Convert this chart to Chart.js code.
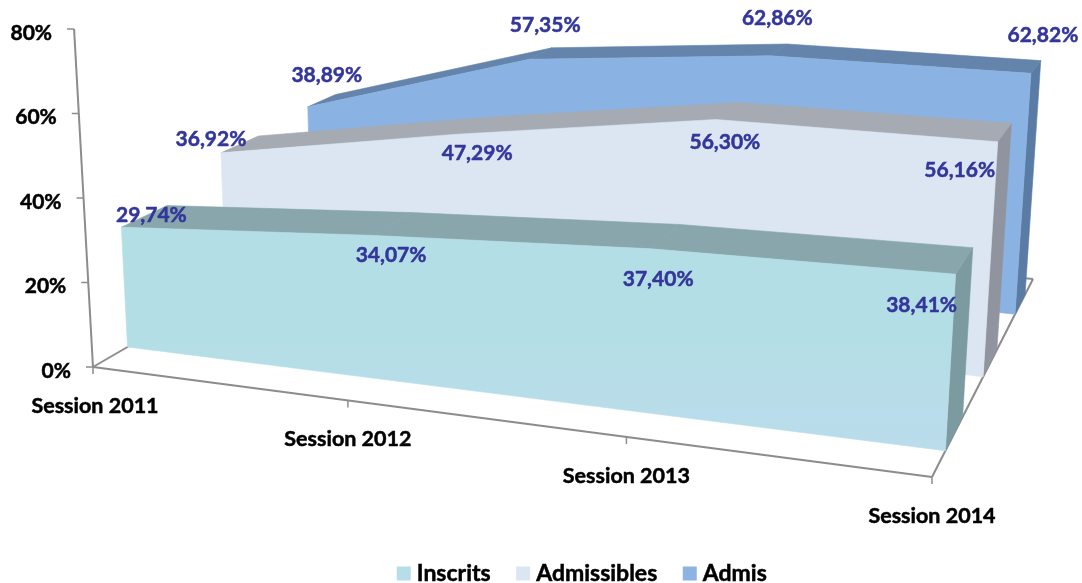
<!DOCTYPE html>
<html>
<head>
<meta charset="utf-8">
<style>
html,body{margin:0;padding:0;background:#fff}
#wrap{width:1082px;height:583px;position:relative}
canvas{display:block}
</style>
<script src="https://cdn.jsdelivr.net/npm/chart.js@4"></script>
</head>
<body>
<div id="wrap"><canvas id="c" width="1082" height="583"></canvas></div>
<script>
// --- data ---
const categories = ['Session 2011', 'Session 2012', 'Session 2013', 'Session 2014'];
const inscrits    = [29.74, 34.07, 37.40, 38.41];
const admissibles = [36.92, 47.29, 56.30, 56.16];
const admis       = [38.89, 57.35, 62.86, 62.82];

// --- styling of the three series ---
const seriesNames = ['Inscrits', 'Admissibles', 'Admis'];
const legendColors = ['#B7DDE8', '#DCE6F2', '#8DB3E2'];
const frontTop    = ['#B4DEE6', '#DCE6F2', '#8AB2E2'];
const frontBottom = ['#BBDCEB', '#DCE6F2', '#8AB2E2'];
const topColors   = ['#88A6AC', '#A6AAB3', '#6484AB'];
const sideColors  = ['#7B9BA0', '#90949E', '#5A7BA3'];
const depthFront  = [0.105, 0.44, 0.78];
const depthBack   = [0.25, 0.58, 0.90];
const labelNudge = [
  [[30,-12.4],[17,19.8],[7,30],[-34,31.5]],
  [[-10,-13.6],[20,19.5],[9,22.6],[-38,28.6]],
  [[19,-31.6],[16,-34],[7,-37.4],[12,-38.4]]
];
const seriesHeightFactor = 0.98;
const fontFamily = 'Lato, Carlito, sans-serif';
const inkBlue = '#33369A';
const axisGrey = '#8C8C8C';

// --- the view: floor quadrilateral in canvas space and the vertical vanishing point ---
const A = [93, 367], B = [932, 477], C = [1033, 279], D = [360, 212];
const VP = [515, 7900];
const sx = A[0]-B[0]+C[0]-D[0], sy = A[1]-B[1]+C[1]-D[1];
const d1x = B[0]-C[0], d1y = B[1]-C[1], d2x = D[0]-C[0], d2y = D[1]-C[1];
const det = d1x*d2y - d1y*d2x;
const G = (sx*d2y - sy*d2x)/det, H = (d1x*sy - d1y*sx)/det;

function project(u, v, px) {
  const w = G*u + H*v + 1;
  const fx = ((B[0]-A[0]+G*B[0])*u + (D[0]-A[0]+H*D[0])*v + A[0]) / w;
  const fy = ((B[1]-A[1]+G*B[1])*u + (D[1]-A[1]+H*D[1])*v + A[1]) / w;
  const h = px / w;
  return [fx + (fx-VP[0])/(VP[1]-fy)*h, fy - h];
}
function poly(ctx, pts, fill) {
  ctx.beginPath();
  pts.forEach((p, i) => i ? ctx.lineTo(p[0], p[1]) : ctx.moveTo(p[0], p[1]));
  ctx.closePath();
  ctx.fillStyle = fill;
  ctx.fill();
  ctx.strokeStyle = fill;
  ctx.lineWidth = 0.6;
  ctx.stroke();
}
function seg(ctx, a, b) {
  ctx.beginPath(); ctx.moveTo(a[0], a[1]); ctx.lineTo(b[0], b[1]); ctx.stroke();
}
function heavyText(ctx, text, x, y, color) {
  ctx.fillStyle = color;
  ctx.strokeStyle = color;
  ctx.lineWidth = 0.5;
  ctx.fillText(text, x, y);
  ctx.strokeText(text, x, y);
}

const perspective = {
  id: 'perspective',
  afterDatasetsDraw(chart) {
    const ctx = chart.ctx, xs = chart.scales.x, ys = chart.scales.y;
    const base = ys.getPixelForValue(0);
    const uOf = x => (x - xs.left) / xs.width;
    ctx.save();

    // floor and axes
    ctx.strokeStyle = axisGrey; ctx.lineWidth = 2;
    seg(ctx, A, B); seg(ctx, B, C); seg(ctx, C, D); seg(ctx, D, A);
    seg(ctx, project(0,0,0), project(0,0,base - ys.getPixelForValue(80)));

    // y ticks + labels from the library's scale
    ctx.textBaseline = 'middle';
    ctx.font = 'bold 21px ' + fontFamily;
    ys.ticks.forEach(t => {
      const p = project(0, 0, base - ys.getPixelForValue(t.value));
      ctx.strokeStyle = axisGrey;
      ctx.lineWidth = 1.5;
      seg(ctx, [p[0]-7, p[1]], p);
      ctx.textAlign = 'right';
      heavyText(ctx, t.label, p[0]-22, p[1]+4, '#000');
    });
    // x ticks + labels
    ctx.font = 'bold 21.5px ' + fontFamily;
    ctx.textAlign = 'center';
    categories.forEach((name, i) => {
      const p = project(uOf(xs.getPixelForValue(i)), 0, 0);
      ctx.strokeStyle = axisGrey;
      ctx.lineWidth = 1.5;
      seg(ctx, p, [p[0], p[1]+7]);
      heavyText(ctx, name, p[0]+(i===0?2:0), p[1]+39, '#000');
    });

    // series, back to front
    for (let s = 2; s >= 0; s--) {
      const pts = chart.getDatasetMeta(s).data;
      const fr = [], bk = [], fl = [];
      pts.forEach(el => {
        const u = uOf(el.x), h = (base - el.y) * seriesHeightFactor;
        fr.push(project(u, depthFront[s], h));
        bk.push(project(u, depthBack[s], h));
        fl.push(project(u, depthFront[s], 0));
      });
      const n = pts.length - 1;
      const flBack = project(1, depthBack[s], 0);
      poly(ctx, [fr[n], bk[n], flBack, fl[n]], sideColors[s]);
      for (let j = 0; j < n; j++) poly(ctx, [fr[j], bk[j], bk[j+1], fr[j+1]], topColors[s]);
      const g = ctx.createLinearGradient(0, Math.min(...fr.map(p => p[1])), 0, Math.max(...fl.map(p => p[1])));
      g.addColorStop(0, frontTop[s]);
      g.addColorStop(0.5, frontTop[s]);
      g.addColorStop(1, frontBottom[s]);
      poly(ctx, fr.concat(fl.slice().reverse()), g);
    }

    // value labels
    ctx.font = 'bold 21px ' + fontFamily;
    ctx.textAlign = 'center';
    for (let s = 0; s < 3; s++) {
      chart.getDatasetMeta(s).data.forEach((el, j) => {
        const p = project(uOf(el.x), depthFront[s], (base - el.y) * seriesHeightFactor);
        const v = chart.data.datasets[s].data[j];
        heavyText(ctx, v.toFixed(2).replace('.', ',') + '%', p[0] + labelNudge[s][j][0], p[1] + labelNudge[s][j][1], inkBlue);
      });
    }
    // legend text, tight against the swatches
    ctx.font = 'bold 23px ' + fontFamily;
    ctx.textAlign = 'left';
    chart.legend.legendItems.forEach((item, i) => {
      const hb = chart.legend.legendHitBoxes[i];
      heavyText(ctx, item.text, hb.left + 20, hb.top + hb.height/2, '#000');
    });
    ctx.restore();
  }
};

new Chart(document.getElementById('c'), {
  type: 'line',
  plugins: [perspective],
  data: {
    labels: categories,
    datasets: [inscrits, admissibles, admis].map((values, i) => ({
      label: seriesNames[i],
      data: values,
      backgroundColor: legendColors[i],
      borderColor: legendColors[i],
      borderWidth: 0,
      pointRadius: 0,
      showLine: false
    }))
  },
  options: {
    responsive: false,
    animation: false,
    layout: { padding: { left: 87, top: 28, right: 0, bottom: -12 } },
    scales: {
      x: {
        display: true,
        grid: { display: false },
        border: { display: false },
        ticks: { display: false },
        afterFit(scale) { scale.height = 176; }
      },
      y: {
        display: false,
        min: 0, max: 80,
        ticks: { stepSize: 20, callback: v => v + '%' }
      }
    },
    plugins: {
      tooltip: { enabled: false },
      legend: {
        position: 'bottom',
        labels: {
          color: 'rgba(0,0,0,0)',
          boxWidth: 14, boxHeight: 14,
          padding: 20,
          font: { family: fontFamily, weight: 'bold', size: 23 }
        }
      }
    }
  }
});
</script>
</body>
</html>
